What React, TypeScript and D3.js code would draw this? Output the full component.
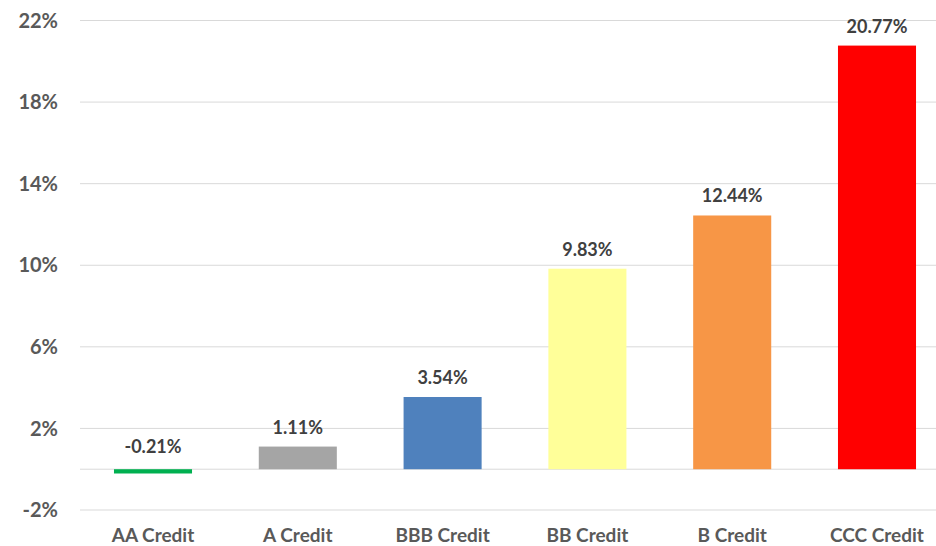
import React from "react";
import * as d3 from "d3";

const categories = ["AA Credit", "A Credit", "BBB Credit", "BB Credit", "B Credit", "CCC Credit"];
const values = [-0.21, 1.11, 3.54, 9.83, 12.44, 20.77];
const colors = ["#00B050", "#A5A5A5", "#4F81BD", "#FFFF99", "#F79646", "#FF0000"];
const yTicks = [-2, 2, 6, 10, 14, 18, 22];

const W = 936;
const H = 546;
const FONT = "Lato, 'Open Sans', sans-serif";
const TEXT = "#595959";
const LABEL = "#404040";

export default function App() {
  const x = d3
    .scaleBand<string>()
    .domain(categories)
    .range([80.6, 949.4])
    .paddingInner(0.461)
    .paddingOuter(0.2305);
  const y = d3.scaleLinear().domain([-2, 22]).range([510, 20.5]);

  return (
    <svg
      width={W}
      height={H}
      style={{ position: "absolute", left: 0, top: 0, background: "#fff" }}
      fontFamily={FONT}
    >
      <rect x={0} y={0} width={W} height={H} fill="#fff" />
      {yTicks.map((t) => (
        <g key={t}>
          <line x1={80} x2={W} y1={y(t)} y2={y(t)} stroke="#d9d9d9" strokeWidth={1} />
          <text
            x={58}
            y={y(t)}
            dy="0.36em"
            textAnchor="end"
            fontSize={20}
            fontWeight={700}
            fill={TEXT}
          >
            {t}%
          </text>
        </g>
      ))}
      <line x1={80} x2={W} y1={y(0)} y2={y(0)} stroke="#d9d9d9" strokeWidth={1} />
      {categories.map((c, i) => {
        const v = values[i];
        const top = y(Math.max(0, v));
        const bottom = y(Math.min(0, v));
        const cx = (x(c) as number) + x.bandwidth() / 2;
        return (
          <g key={c}>
            <rect
              x={x(c)}
              y={top}
              width={x.bandwidth()}
              height={Math.max(bottom - top, 1)}
              fill={colors[i]}
            />
            <text
              x={cx}
              y={v < 0 ? y(0) - 16 : top - 13}
              textAnchor="middle"
              fontSize={18}
              fontWeight={700}
              fill={LABEL}
            >
              {v.toFixed(2)}%
            </text>
            <text
              x={cx}
              y={542}
              textAnchor="middle"
              fontSize={19}
              fontWeight={700}
              fill={TEXT}
            >
              {c}
            </text>
          </g>
        );
      })}
    </svg>
  );
}
